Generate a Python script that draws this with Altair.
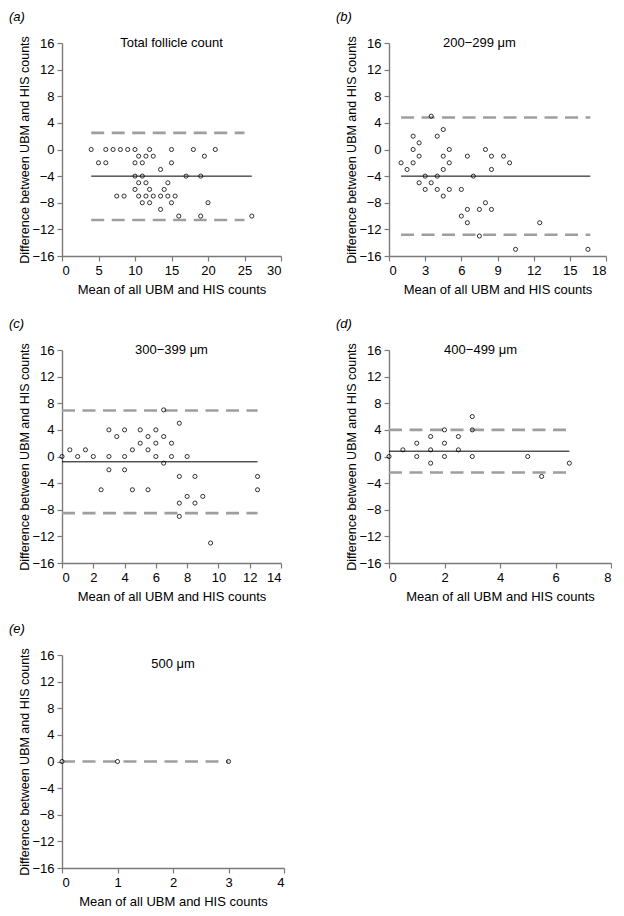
import altair as alt
import pandas as pd

FONT = "Liberation Sans"

# ---------------- data ----------------
A_X = [4, 6, 7, 8, 9, 10, 12, 15, 18, 21,
       10.5, 11.5, 12.5, 19.5,
       5, 6, 10, 11, 15,
       13.5,
       10, 11, 17, 19,
       10.5, 11.5, 14.5,
       10, 12, 14,
       7.5, 8.5, 10.5, 11.5, 12.5, 13.5, 14.5, 15.5,
       11, 12, 15, 20,
       13.5,
       16, 19, 26]
A_Y = [0, 0, 0, 0, 0, 0, 0, 0, 0, 0,
       -1, -1, -1, -1,
       -2, -2, -2, -2, -2,
       -3,
       -4, -4, -4, -4,
       -5, -5, -5,
       -6, -6, -6,
       -7, -7, -7, -7, -7, -7, -7, -7,
       -8, -8, -8, -8,
       -9,
       -10, -10, -10]

B_X = [3.5, 4.5, 2, 4, 2.5, 2, 5, 8, 2.5, 4.5, 6.5, 8.5, 9.5, 1, 2, 5, 10,
       1.5, 4.5, 8.5, 3, 4, 7, 2.5, 3.5, 3, 4, 5, 6, 4.5, 8, 6.5, 7.5, 8.5,
       6, 6.5, 12.5, 7.5, 10.5, 16.5]
B_Y = [5, 3, 2, 2, 1, 0, 0, 0, -1, -1, -1, -1, -1, -2, -2, -2, -2,
       -3, -3, -3, -4, -4, -4, -5, -5, -6, -6, -6, -6, -7, -8, -9, -9, -9,
       -10, -11, -11, -13, -15, -15]

C_X = [6.5, 7.5, 3, 4, 5, 6, 3.5, 5.5, 6.5, 5, 6, 7, 0.5, 1.5, 4.5, 5.5,
       0, 1, 2, 3, 4, 6, 7, 8, 6.5, 3, 4, 7.5, 8.5, 12.5, 2.5, 4.5, 5.5,
       12.5, 8, 9, 7.5, 8.5, 7.5, 9.5]
C_Y = [7, 5, 4, 4, 4, 4, 3, 3, 3, 2, 2, 2, 1, 1, 1, 1,
       0, 0, 0, 0, 0, 0, 0, 0, -1, -2, -2, -3, -3, -3, -5, -5, -5,
       -5, -6, -6, -7, -7, -9, -13]

D_X = [3, 3, 2, 1.5, 2.5, 1, 2, 0.5, 1.5, 2.5, 0, 1, 2, 3, 5, 1.5, 6.5, 5.5]
D_Y = [6, 4, 4, 3, 3, 2, 2, 1, 1, 1, 0, 0, 0, 0, 0, -1, -1, -3]

E_X = [0, 1, 3]
E_Y = [0, 0, 0]

# mean difference and limits of agreement, with their x extents
A_MEAN, A_UPPER, A_LOWER = -4.0, 2.5, -10.6
B_MEAN, B_UPPER, B_LOWER = -4.0, 4.8, -12.8
C_MEAN, C_UPPER, C_LOWER = -0.8, 6.9, -8.5
D_MEAN, D_UPPER, D_LOWER = 0.8, 4.0, -2.4
E_LOA = 0.0

Y_TICKS = [-16, -12, -8, -4, 0, 4, 8, 12, 16]
A_XTICKS = [0, 5, 10, 15, 20, 25, 30]
B_XTICKS = [0, 3, 6, 9, 12, 15, 18]
C_XTICKS = [0, 2, 4, 6, 8, 10, 12, 14]
D_XTICKS = [0, 2, 4, 6, 8]
E_XTICKS = [0, 1, 2, 3, 4]

X_TITLE = "Mean of all UBM and HIS counts"
Y_TITLE = "Difference between UBM and HIS counts"


def panel(label, heading, hx, hy, xs, ys, xticks, mean, upper, lower,
          mean_span, loa_span, width, height=213):
    xscale = alt.Scale(domain=[xticks[0], xticks[-1]], nice=False, zero=False)
    yscale = alt.Scale(domain=[Y_TICKS[0], Y_TICKS[-1]], nice=False)
    xaxis = alt.Axis(values=xticks, title=X_TITLE, grid=False)
    yaxis = alt.Axis(values=Y_TICKS, title=Y_TITLE, grid=False)

    layers = []
    loa_y = [v for v in (upper, lower) if v is not None]
    if loa_y:
        loa = pd.DataFrame({"x": [loa_span[0]] * len(loa_y),
                            "x2": [loa_span[1]] * len(loa_y),
                            "y": loa_y})
        layers.append(
            alt.Chart(loa).mark_rule(strokeDash=[13, 7.5], color="#9e9e9e",
                                     strokeWidth=2.6)
            .encode(x=alt.X("x:Q", scale=xscale, axis=xaxis), x2="x2:Q",
                    y=alt.Y("y:Q", scale=yscale, axis=yaxis))
        )
    if mean is not None:
        mdf = pd.DataFrame({"x": [mean_span[0]], "x2": [mean_span[1]], "y": [mean]})
        layers.append(
            alt.Chart(mdf).mark_rule(color="black", strokeWidth=1)
            .encode(x=alt.X("x:Q", scale=xscale, axis=xaxis), x2="x2:Q",
                    y=alt.Y("y:Q", scale=yscale, axis=yaxis))
        )
    pts = pd.DataFrame({"x": xs, "y": ys})
    layers.append(
        alt.Chart(pts).mark_point(shape="circle", filled=False, size=17,
                                  color="black", strokeWidth=0.8, opacity=1)
        .encode(x=alt.X("x:Q", scale=xscale, axis=xaxis),
                y=alt.Y("y:Q", scale=yscale, axis=yaxis))
    )
    tdf = pd.DataFrame({"x": [hx], "y": [hy], "t": [heading]})
    layers.append(
        alt.Chart(tdf).mark_text(font=FONT, fontSize=13, color="black",
                                 baseline="middle", align="center")
        .encode(x=alt.X("x:Q", scale=xscale, axis=xaxis),
                y=alt.Y("y:Q", scale=yscale, axis=yaxis), text="t:N")
    )
    return alt.layer(*layers).properties(
        width=width, height=height,
        title=alt.TitleParams(text=label, anchor="start", frame="bounds",
                              font=FONT, fontSize=13, fontWeight="normal",
                              fontStyle="italic", dx=-10, offset=11.5),
    )


pa = panel("(a)", "Total follicle count", 15, 16, A_X, A_Y, A_XTICKS,
           A_MEAN, A_UPPER, A_LOWER, (4, 26), (4, 25), 219)
pb = panel("(b)", "200\u2212299 \u03bcm", 7.5, 16, B_X, B_Y, B_XTICKS,
           B_MEAN, B_UPPER, B_LOWER, (1, 16.7), (1, 16.7), 217)
pc = panel("(c)", "300\u2212399 \u03bcm", 7.0, 16, C_X, C_Y, C_XTICKS,
           C_MEAN, C_UPPER, C_LOWER, (0, 12.5), (0, 12.5), 219)
pd_ = panel("(d)", "400\u2212499 \u03bcm", 3.3, 16, D_X, D_Y, D_XTICKS,
            D_MEAN, D_UPPER, D_LOWER, (0, 6.5), (0, 6.5), 222)
pe = panel("(e)", "500 \u03bcm", 2.0, 14.6, E_X, E_Y, E_XTICKS,
           None, E_LOA, None, None, (0, 3), 222)

row1 = alt.hconcat(pa, pb, spacing=53)
row2 = alt.hconcat(pc, pd_, spacing=53)
top_rows = alt.vconcat(row1, row2, spacing=22)

chart = (
    alt.vconcat(top_rows, pe, spacing=20)
    .properties(padding={"left": 0, "top": 3, "right": 0, "bottom": 0})
    .configure_view(stroke=None)
    .configure_axis(
        labelFont=FONT, labelFontSize=13, labelColor="black",
        titleFont=FONT, titleFontSize=13, titleFontWeight="normal",
        titleColor="black",
        domainColor="#7a7a7a", domainWidth=1.4,
        tickColor="#7a7a7a", tickWidth=1.2, tickSize=5,
        labelPadding=3,
    )
    .configure_axisY(titlePadding=0, titleFontSize=12.5)
    .configure_axisX(titlePadding=6)
)

chart.save("out.html", embed_options={"renderer": "svg", "actions": False})
